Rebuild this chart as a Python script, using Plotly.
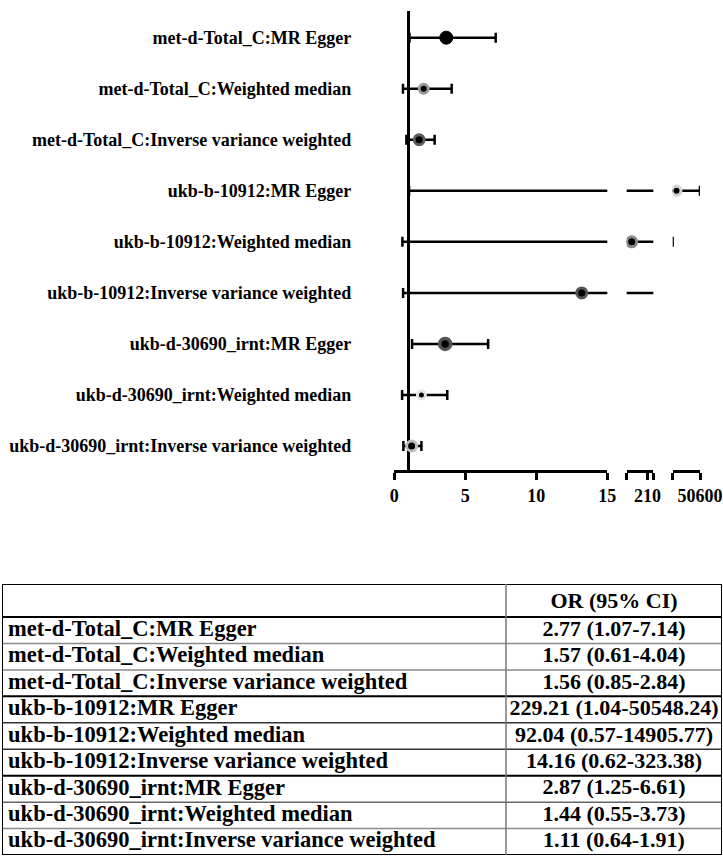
import plotly.graph_objects as go

# ---------------- data ----------------
labels = [
    "met-d-Total_C:MR Egger",
    "met-d-Total_C:Weighted median",
    "met-d-Total_C:Inverse variance weighted",
    "ukb-b-10912:MR Egger",
    "ukb-b-10912:Weighted median",
    "ukb-b-10912:Inverse variance weighted",
    "ukb-d-30690_irnt:MR Egger",
    "ukb-d-30690_irnt:Weighted median",
    "ukb-d-30690_irnt:Inverse variance weighted",
]
or_values = [2.77, 1.57, 1.56, 229.21, 92.04, 14.16, 2.87, 1.44, 1.11]
ci_low = [1.07, 0.61, 0.85, 1.04, 0.57, 0.62, 1.25, 0.55, 0.64]
ci_high = [7.14, 4.04, 2.84, 50548.24, 14905.77, 323.38, 6.61, 3.73, 1.91]
# point positions as drawn in the original chart
point_drawn = [3.66, 2.07, 1.75, 20000, 157, 13.2, 3.58, 1.91, 1.22]

# broken x axis segments
seg_ranges = [[0, 15], [140, 230], [15000, 50600]]
seg_tickvals = [[0, 5, 10, 15], [140, 210, 230], [15000, 50600]]
seg_ticktext = [["0", "5", "10", "15"], ["", "210", ""], ["", "50600"]]

table_header = "OR (95% CI)"

# ---------------- styles ----------------
W, H = 723, 857
FONT = "Liberation Serif, Times New Roman, serif"
seg_px = [(394.3, 607.3), (626.7, 653.3), (672.7, 700.0)]
marker_sizes = [13, 9, 10, 9, 10, 10, 11, 8, 10]
ring_colors = ["#000000", "#9a9a9a", "#5e5e5e", "#d2d2d2", "#8a8a8a",
               "#555555", "#555555", "#e4e4e4", "#bdbdbd"]
ring_widths = [1, 3, 3, 3, 3, 3, 3.5, 3, 3]

fig = go.Figure()

rows = list(range(len(labels)))
err_plus = [h - p for h, p in zip(ci_high, point_drawn)]
err_minus = [p - l for p, l in zip(point_drawn, ci_low)]

for k in range(3):
    xa = "x" if k == 0 else f"x{k+1}"
    fig.add_trace(go.Scatter(
        x=point_drawn, y=rows, xaxis=xa, yaxis="y", mode="markers",
        marker=dict(color="black", size=marker_sizes, opacity=1,
                    line=dict(color=ring_colors, width=ring_widths)),
        error_x=dict(type="data", symmetric=False, array=err_plus,
                     arrayminus=err_minus, color="black", thickness=2.5, width=5),
        cliponaxis=True, showlegend=False, hoverinfo="skip",
    ))

axis_common = dict(showgrid=False, zeroline=False, showline=True, linewidth=3,
                   linecolor="black", ticks="outside", ticklen=7, tickwidth=2.5,
                   tickcolor="black",
                   tickfont=dict(family=FONT, size=18, color="black", weight="bold"),
                   anchor="y", fixedrange=True)
for k in range(3):
    name = "xaxis" if k == 0 else f"xaxis{k+1}"
    fig.layout[name] = dict(axis_common,
                            domain=[seg_px[k][0] / W, seg_px[k][1] / W],
                            range=seg_ranges[k], tickmode="array",
                            tickvals=seg_tickvals[k], ticktext=seg_ticktext[k])

fig.layout["yaxis"] = dict(
    domain=[1 - 470 / H, 1 - 11 / H], range=[8.47, -0.523], anchor="x",
    tickmode="array", tickvals=rows, ticktext=labels, ticks="",
    showline=False, showgrid=False, zeroline=False, ticklabelstandoff=42,
    tickfont=dict(family=FONT, size=18, color="black", weight="bold"),
    fixedrange=True,
)

# reference line at OR = 1
fig.add_shape(type="line", xref="x", yref="y domain", x0=1, x1=1, y0=0, y1=1,
              line=dict(color="black", width=3), layer="below")

# ---------------- table ----------------
hdr_h = 33
row_h = 26.45
tbl_h = hdr_h + row_h * len(labels)
top_px, left_px, right_px = 584, 2, 722
div_frac = (506 - left_px) / (right_px - left_px)
right_center = (div_frac + 1) / 2

fig.layout["xaxis4"] = dict(domain=[left_px / W, right_px / W], range=[0, 1],
                            visible=False, anchor="y2", fixedrange=True)
fig.layout["yaxis2"] = dict(domain=[1 - (top_px + tbl_h) / H, 1 - top_px / H],
                            range=[tbl_h, 0], visible=False, anchor="x4",
                            fixedrange=True)

row_centers = [hdr_h + row_h * (i + 0.5) for i in rows]
ci_text = [f"{o:.2f} ({l:.2f}-{h:.2f})" for o, l, h in zip(or_values, ci_low, ci_high)]
tfont_left = dict(family=FONT, size=22.5, color="black", weight="bold")
tfont_right = dict(family=FONT, size=22, color="black", weight="bold")

fig.add_trace(go.Scatter(x=[0.0085] * len(labels), y=row_centers, text=labels,
                         mode="text", textposition="middle right", textfont=tfont_left,
                         xaxis="x4", yaxis="y2", cliponaxis=False,
                         showlegend=False, hoverinfo="skip"))
fig.add_trace(go.Scatter(x=[right_center] * len(labels), y=row_centers, text=ci_text,
                         mode="text", textposition="middle center", textfont=tfont_right,
                         xaxis="x4", yaxis="y2", cliponaxis=False,
                         showlegend=False, hoverinfo="skip"))
fig.add_trace(go.Scatter(x=[right_center], y=[hdr_h / 2 + 1.5], text=[table_header],
                         mode="text", textposition="middle center", textfont=tfont_right,
                         xaxis="x4", yaxis="y2", cliponaxis=False,
                         showlegend=False, hoverinfo="skip"))

line_styles = {0: ("black", 2), 3: ("black", 2), 6: ("black", 2), 9: ("black", 2),
               1: ("#8a8a8a", 1.5), 2: ("#8a8a8a", 1.5), 4: ("#333333", 1.5),
               5: ("#333333", 1.5), 7: ("#666666", 1.5), 8: ("#8a8a8a", 1.5)}
for kk in range(len(labels) + 1):
    yy = hdr_h + row_h * kk
    c, w = line_styles[kk]
    fig.add_shape(type="line", xref="x4", yref="y2", x0=0, x1=1, y0=yy, y1=yy,
                  line=dict(color=c, width=w))
fig.add_shape(type="line", xref="x4", yref="y2", x0=0, x1=1, y0=0, y1=0,
              line=dict(color="black", width=2))
fig.add_shape(type="line", xref="x4", yref="y2", x0=0, x1=0, y0=0, y1=tbl_h,
              line=dict(color="black", width=2))
fig.add_shape(type="line", xref="x4", yref="y2", x0=1, x1=1, y0=0, y1=tbl_h,
              line=dict(color="black", width=2))
fig.add_shape(type="line", xref="x4", yref="y2", x0=div_frac, x1=div_frac, y0=0, y1=tbl_h,
              line=dict(color="#777777", width=1.5))

fig.update_layout(width=W, height=H, autosize=False,
                  margin=dict(l=0, r=0, t=0, b=0, autoexpand=False),
                  paper_bgcolor="white", plot_bgcolor="white",
                  showlegend=False, hovermode=False)

fig.write_html(
    "out.html",
    config={"displayModeBar": False, "responsive": False},
    default_width=f"{W}px", default_height=f"{H}px",
    post_script="document.body.style.margin='0';document.body.style.padding='0';"
                "document.body.style.overflow='hidden';",
)
